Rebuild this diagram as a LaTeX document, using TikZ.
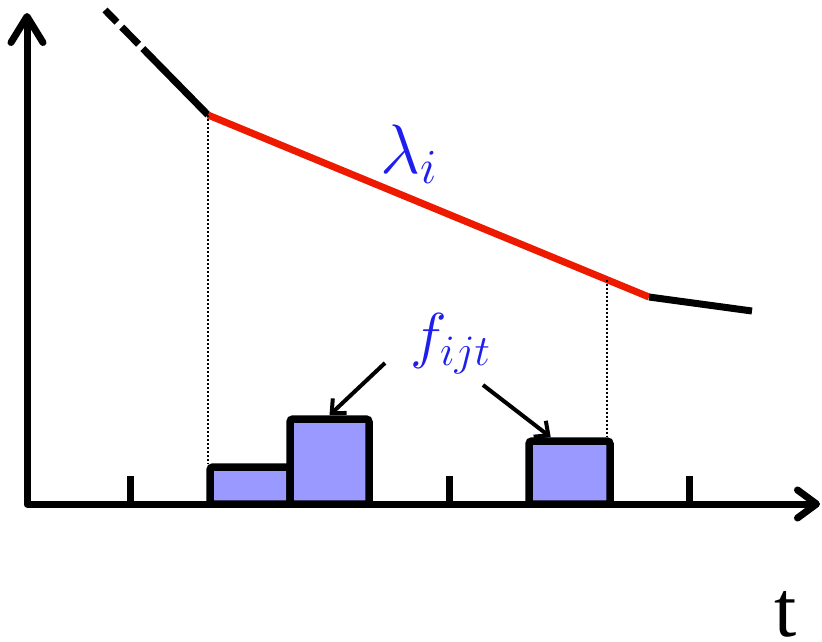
\RequirePackage{fix-cm}
\documentclass[tikz,border=0pt]{standalone}
\usepackage{fontspec}
\newfontfamily\tiempos{Liberation Serif}
\usetikzlibrary{arrows.meta,calc}
\definecolor{AzulTexto}{HTML}{1E1EEE}
\definecolor{RojoTramo}{HTML}{EE1A00}
\definecolor{Lila}{HTML}{9999FF}

\begin{document}
\begin{tikzpicture}[x=1pt,y=-1pt,
        eje/.style={line width=7pt,line join=round},
        barra/.style={draw,fill=Lila,line width=7.5pt,rounded corners=3pt,inner sep=0pt},
        tramo/.style={line width=7pt},
        guia/.style={line width=1.5pt,dash pattern=on 2pt off 2pt},
        flecha/.style={-{Straight Barb[length=11pt,width=20pt]},line width=4pt},
        etiqueta/.style={text=AzulTexto,inner sep=0pt}]
        \useasboundingbox (0,0) rectangle (822,641);
        \coordinate (o) at (27,504);\coordinate (ytip) at (27,13);\coordinate (xtip) at (820,504);
        \draw[eje,{Straight Barb[length=26pt,width=32pt,round]}-{Straight Barb[length=19pt,width=28pt,round]}] (ytip) -- (o) -- (xtip);
        \foreach \x in {130,449,689} \draw[eje] (\x,504) -- (\x,476);
        \node[barra,minimum width=80pt,minimum height=37pt] (b1) at (250,485.5) {};
        \node[barra,minimum width=79pt,minimum height=85pt] (b2) at (329.5,461.5) {};
        \node[barra,minimum width=81pt,minimum height=63pt] (b3) at (569.5,472.5) {};
        \coordinate (d0) at (105,10);\coordinate (k1) at (208,115);\coordinate (k2) at (649,297);\coordinate (k3) at (752,311);
        \draw[tramo,dash pattern=on 17pt off 7pt on 24pt off 6pt on 300pt off 1pt] (d0) -- (k1);
        \draw[tramo,RojoTramo] (k1) -- (k2);
        \draw[tramo] (k2) -- (k3);
        \coordinate (k4) at ($(k1)!0.905!(k2)$);
        \draw[guia] (k1) -- (k1 |- b1.north);\draw[guia] (k4) -- (k4 |- b3.north);
        \node[etiqueta,anchor=base west,font=\fontsize{70}{80}\selectfont] (lam) at (380,173) {$\lambda_i$};
        \node[etiqueta,anchor=base west,font=\fontsize{62}{70}\selectfont] (fl) at (410,356) {$f_{ijt}$};
        \draw[flecha] ($(fl.base west)+(-25,7)$) -- (b2.north);\draw[flecha] ($(fl.base west)+(73,29)$) -- (b3.118);
        \node[inner sep=0pt,anchor=base,font=\tiempos\fontsize{80}{90}\selectfont] (te) at (786,636) {t};
      \end{tikzpicture}
\end{document}
